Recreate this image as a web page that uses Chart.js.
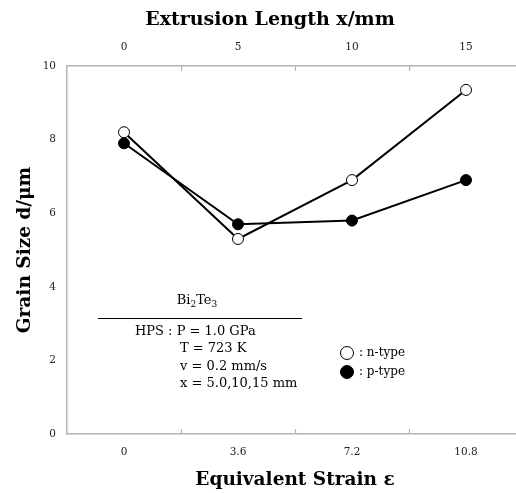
<!DOCTYPE html>
<html><head><meta charset="utf-8">
<script src="https://cdn.jsdelivr.net/npm/chart.js@4.4.0/dist/chart.umd.min.js"></script>
<style>html,body{margin:0;padding:0;overflow:hidden;background:#fff}#wrap{width:530px;height:493px;position:relative}</style>
</head><body><div id="wrap"><canvas id="c"></canvas></div>
<script>
const strainLabels = ['0', '3.6', '7.2', '10.8'];
const lengthLabels = ['0', '5', '10', '15'];
const nType = [8.2, 5.3, 6.9, 9.35];
const pType = [7.9, 5.7, 5.8, 6.9];
const yMin = 0, yMax = 10, yStep = 2;
const topTitle = 'Extrusion Length x/mm';
const bottomTitle = 'Equivalent Strain ε';
const yTitle = 'Grain Size d/μm';
const noteLines = ['HPS : P = 1.0 GPa', 'T = 723 K', 'v = 0.2 mm/s', 'x = 5.0,10,15 mm'];
const legendNames = [': n-type', ': p-type'];

const SERIF = "'DejaVu Serif', 'Liberation Serif', serif";
const AXIS = '#b4b4b4';

const decor = {
  id: 'decor',
  afterDraw(chart) {
    const ctx = chart.ctx, a = chart.chartArea;
    ctx.save();
    ctx.strokeStyle = AXIS; ctx.lineWidth = 1.2;
    ['x', 'x2'].forEach(id => {
      const s = chart.scales[id];
      for (let i = 1; i < s.ticks.length; i++) {
        const px = Math.round((s.getPixelForTick(i - 1) + s.getPixelForTick(i)) / 2) + 0.5;
        ctx.beginPath();
        if (id === 'x') { ctx.moveTo(px, a.bottom); ctx.lineTo(px, a.bottom - 5); }
        else { ctx.moveTo(px, a.top); ctx.lineTo(px, a.top + 5); }
        ctx.stroke();
      }
    });
    ctx.fillStyle = '#000';
    ctx.font = 'bold 19px ' + SERIF;
    ctx.textAlign = 'center'; ctx.textBaseline = 'middle';
    ctx.fillText(topTitle, 270, 20);
    ctx.textAlign = 'left';
    const parts = [['Bi', 0], ['2', 1], ['Te', 0], ['3', 1]];
    let tot = 0;
    parts.forEach(p => { ctx.font = (p[1] ? '9px ' : '13px ') + SERIF; tot += ctx.measureText(p[0]).width; });
    let bx = 197 - tot / 2;
    parts.forEach(p => {
      ctx.font = (p[1] ? '9px ' : '13px ') + SERIF;
      ctx.fillText(p[0], bx, p[1] ? 305 : 301);
      bx += ctx.measureText(p[0]).width;
    });
    ctx.strokeStyle = '#000'; ctx.lineWidth = 1;
    ctx.beginPath(); ctx.moveTo(98, 318.5); ctx.lineTo(302, 318.5); ctx.stroke();
    ctx.font = '13px ' + SERIF;
    ctx.fillText(noteLines[0], 135, 332);
    ctx.fillText(noteLines[1], 180, 349);
    ctx.fillText(noteLines[2], 180, 367);
    ctx.fillText(noteLines[3], 180, 384);
    const ys = [353, 372];
    chart.data.datasets.forEach((ds, i) => {
      ctx.beginPath(); ctx.arc(347, ys[i], 6.5, 0, Math.PI * 2);
      ctx.fillStyle = ds.pointBackgroundColor; ctx.fill();
      ctx.strokeStyle = '#000'; ctx.lineWidth = 1; ctx.stroke();
      ctx.fillStyle = '#000'; ctx.font = '12px ' + SERIF;
      ctx.fillText(legendNames[i], 359, ys[i]);
    });
    ctx.restore();
  }
};

new Chart(document.getElementById('c'), {
  type: 'line',
  data: {
    labels: strainLabels,
    datasets: [
      { label: 'n-type', data: nType, borderColor: '#000', borderWidth: 2,
        pointBackgroundColor: '#fff', pointBorderColor: '#000', pointBorderWidth: 1,
        pointRadius: 5.5, tension: 0, xAxisID: 'x', yAxisID: 'y' },
      { label: 'p-type', data: pType, borderColor: '#000', borderWidth: 2,
        pointBackgroundColor: '#000', pointBorderColor: '#000', pointBorderWidth: 1,
        pointRadius: 5.5, tension: 0, xAxisID: 'x', yAxisID: 'y' }
    ]
  },
  options: {
    responsive: true, maintainAspectRatio: false, animation: false,
    layout: { padding: { left: 0, right: 7, top: 0, bottom: 0 } },
    plugins: { legend: { display: false }, tooltip: { enabled: false } },
    scales: {
      x: {
        type: 'category', position: 'bottom', offset: true,
        grid: { display: false, drawTicks: false },
        border: { display: true, color: AXIS, width: 1.5 },
        ticks: { padding: 12, color: '#222', font: { family: SERIF, size: 10.5 }, maxRotation: 0 },
        title: { display: true, text: bottomTitle, color: '#000', font: { family: SERIF, size: 18.5, weight: 'bold' }, padding: { top: 0, bottom: 2 } },
        afterFit(s) { s.height = 59; }
      },
      x2: {
        type: 'category', position: 'top', offset: true, labels: lengthLabels,
        grid: { display: false, drawTicks: false },
        border: { display: true, color: AXIS, width: 1.5 },
        ticks: { padding: 12, color: '#222', font: { family: SERIF, size: 10.5 }, maxRotation: 0 },
        afterFit(s) { s.height = 66; }
      },
      y: {
        min: yMin, max: yMax,
        grid: { display: false, drawTicks: false },
        border: { display: true, color: AXIS, width: 1.5 },
        ticks: { stepSize: yStep, padding: 11, color: '#222', font: { family: SERIF, size: 10.5 } },
        title: { display: true, text: yTitle, color: '#000', font: { family: SERIF, size: 18.5, weight: 'bold' }, padding: { top: 14, bottom: 0 } },
        afterFit(s) { s.width = 67; }
      }
    }
  },
  plugins: [decor]
});
</script>
</body></html>
